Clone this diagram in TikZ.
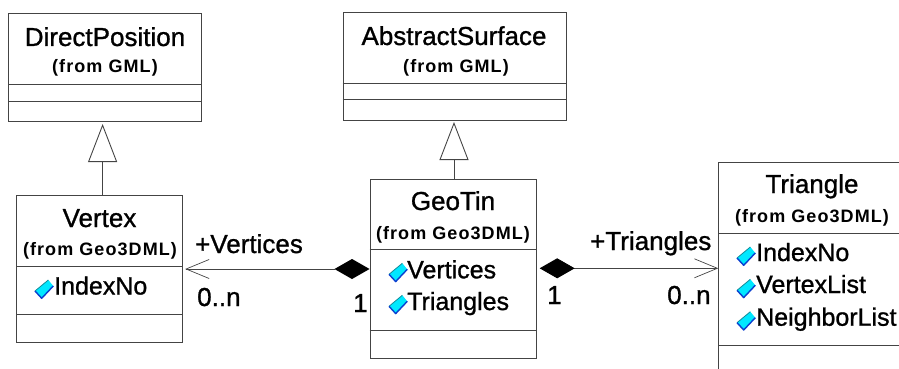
\documentclass[tikz,border=0pt]{standalone}
\usepackage{fontspec}
\setmainfont{Liberation Sans}
\newfontfamily\heavy{Liberation Sans}[FakeBold=1]
\newfontfamily\heavyb{Liberation Sans Bold}[LetterSpace=6]
\usetikzlibrary{arrows.meta,calc}
\definecolor{edge}{HTML}{444444}
\definecolor{iconfill}{HTML}{00E8FF}
\definecolor{iconblue}{HTML}{0A3FD0}
\definecolor{iconteal}{HTML}{128C9A}
\tikzset{
  x=1pt,y=-1pt,
  classbox/.style={draw=edge,line width=0.9pt,fill=white,inner sep=0pt,anchor=north west,text width=0pt},
  title/.style={font=\heavy\fontsize{26}{26}\selectfont,inner sep=0pt,anchor=base},
  origin/.style={font=\heavyb\fontsize{18}{18}\selectfont,inner sep=0pt,anchor=base},
  attr/.style={font=\heavy\fontsize{25}{25}\selectfont,inner sep=0pt,anchor=base west},
  role/.style={font=\heavy\fontsize{26}{26}\selectfont,inner sep=0pt,anchor=base west},
  sep/.style={draw=edge,line width=0.9pt},
  gen/.style={draw=edge,line width=0.9pt,-{Triangle[open,length=38pt,width=29pt,line width=0.9pt]}},
  assoc/.style={draw=edge,line width=0.9pt,{Diamond[length=35pt,width=20pt,fill=black,color=black]}-{Straight Barb[length=23pt,width=19pt,line width=0.7pt]}},
  pics/attricon/.style={code={
    \fill[iconfill] (-9,2) -- (4.3,-9) -- (9.3,-3) -- (-2.3,9.3) -- cycle;
    \draw[iconteal,line width=0.8pt] (-9,2) -- (4.3,-9);
    \draw[iconblue,line width=1.4pt,line join=round] (-9,2) -- (-2.3,9.3) -- (9.3,-3);
  }},
}
\begin{document}
\begin{tikzpicture}
\useasboundingbox (0,0) rectangle (899,369);
\node[classbox,minimum width=192.5pt,minimum height=107.7pt] (dp) at (8,13.3) {};
\node[classbox,minimum width=223.4pt,minimum height=107.7pt] (as) at (342.6,12.3) {};
\node[classbox,minimum width=166.3pt,minimum height=147pt] (vx) at (16,194.7) {};
\node[classbox,minimum width=166.8pt,minimum height=179.5pt] (gt) at (369.5,178.5) {};
\node[classbox,minimum width=200pt,minimum height=230pt] (tr) at (718.3,162) {};

\draw[sep] (8,84.7) -- (200.5,84.7) (8,101) -- (200.5,101);
\draw[sep] (342.6,83.3) -- (566,83.3) (342.6,99) -- (566,99);
\draw[sep] (16,266) -- (182.3,266) (16,314.7) -- (182.3,314.7);
\draw[sep] (369.5,249.3) -- (536.3,249.3) (369.5,330) -- (536.3,330);
\draw[sep] (718.3,233.3) -- (899,233.3) (718.3,345.3) -- (899,345.3);

\node[title] (t1) at (105,46) {DirectPosition};
\node[origin] (o1) at (105,73) {(from GML)};
\node[title] (t2) at (454,45) {AbstractSurface};
\node[origin] (o2) at (456,72) {(from GML)};
\node[title] (t3) at (99.5,227) {Vertex};
\node[origin] (o3) at (100,255) {(from Geo3DML)};
\node[title] (t4) at (453,210) {GeoTin};
\node[origin] (o4) at (453,239) {(from Geo3DML)};
\node[title] (t5) at (812,193) {Triangle};
\node[origin] (o5) at (812,222.5) {(from Geo3DML)};

\pic at (44,289) {attricon};
\node[attr] (a1) at (54,294.5) {IndexNo};
\pic at (398,272.3) {attricon};
\node[attr] (a2) at (407,278.3) {Vertices};
\pic at (398,304.3) {attricon};
\node[attr] (a3) at (407,310) {Triangles};
\pic at (746,256) {attricon};
\node[attr] (a4) at (756,261) {IndexNo};
\pic at (746,288.3) {attricon};
\node[attr] (a5) at (756,293) {VertexList};
\pic at (746,320.7) {attricon};
\node[attr] (a6) at (756,325.7) {NeighborList};

\coordinate (g1) at (102.6,124);
\coordinate (g2) at (454,122);
\draw[gen] (vx.north -| g1) -- (g1);
\draw[gen] (gt.north -| g2) -- (g2);

\coordinate (vy) at (0,269);
\coordinate (ty) at (0,268.3);
\draw[assoc] (gt.west |- vy) -- ($(vx.east |- vy)+(2,0)$);
\draw[assoc] ($(gt.east |- ty)+(2.5,0)$) -- (tr.west |- ty);

\node[role] (r1) at (195,253) {+Vertices};
\node[role] (r2) at (590,250) {+Triangles};
\node[role] (m1) at (197,306) {0..n};
\node[role] (m2) at (667,304) {0..n};
\node[role] (m3) at (353,312) {1};
\node[role] (m4) at (547,304) {1};
\end{tikzpicture}
\end{document}
